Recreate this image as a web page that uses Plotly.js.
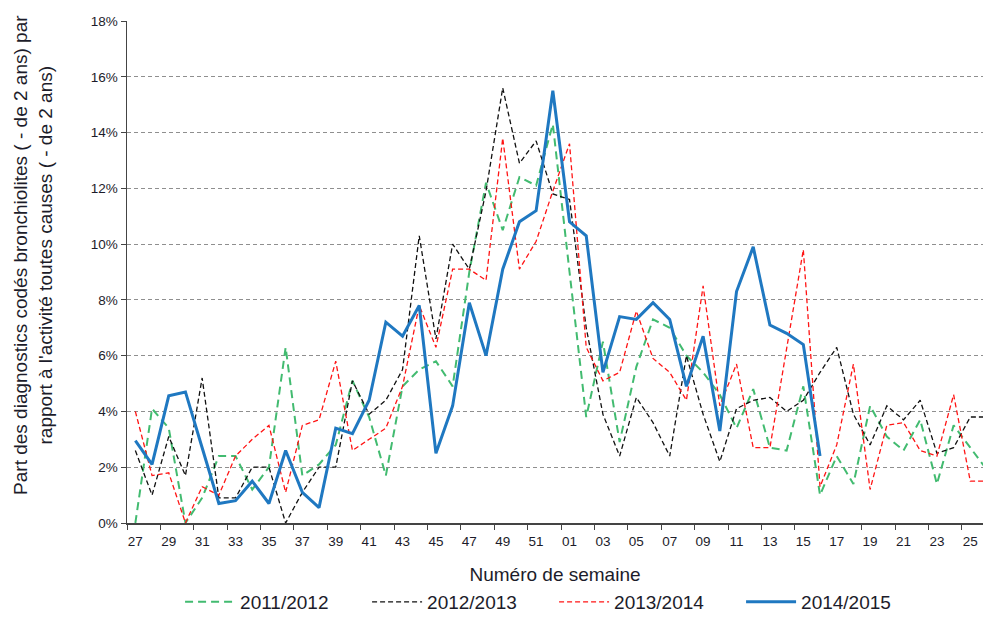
<!DOCTYPE html>
<html>
<head>
<meta charset="utf-8">
<script src="https://cdn.plot.ly/plotly-3.0.1.min.js"></script>
<style>html,body{margin:0;padding:0;background:#fff;}#chart{width:983px;height:621px;}</style>
</head>
<body>
<div id="chart"></div>
<script>
// Week labels (season week 27 -> week 26 of next year)
const weeks = ['27','28','29','30','31','32','33','34','35','36','37','38','39','40','41','42','43','44','45','46','47','48','49','50','51','52',
               '01','02','03','04','05','06','07','08','09','10','11','12','13','14','15','16','17','18','19','20','21','22','23','24','25','26'];

// Share (%) per week, by season
const s2011_2012 = [0.0,4.1,3.4,0.0,0.9,2.4,2.4,1.2,2.0,6.3,1.7,2.1,2.8,5.1,3.8,1.7,4.9,5.5,5.8,4.9,9.0,12.2,10.5,12.4,12.1,14.3,
                    9.0,3.8,6.5,2.9,5.6,7.3,7.0,6.0,5.4,4.6,3.4,4.8,2.7,2.6,4.9,1.0,2.4,1.4,4.2,3.1,2.6,3.7,1.4,3.5,2.7,1.9];
const s2012_2013 = [2.6,1.0,3.1,1.7,5.2,0.9,0.9,2.0,2.0,0.0,1.1,2.0,2.0,5.1,3.9,4.4,5.5,10.3,6.6,10.0,9.1,11.9,15.6,12.9,13.7,11.8,
                    11.6,7.0,3.9,2.4,4.5,3.6,2.4,6.0,3.9,2.2,4.1,4.4,4.5,4.0,4.4,5.4,6.3,3.9,2.8,4.2,3.7,4.4,2.5,2.7,3.8,3.8];
const s2013_2014 = [4.0,1.7,1.8,0.0,1.3,1.0,2.4,3.0,3.5,1.1,3.5,3.7,5.8,2.6,3.0,3.4,4.9,7.8,6.3,9.1,9.1,8.7,13.8,9.1,10.1,11.9,
                    13.6,6.3,5.1,5.4,7.6,5.9,5.4,4.4,8.5,4.2,5.7,2.7,2.7,6.2,9.8,1.3,2.8,5.7,1.2,3.5,3.6,2.6,2.4,4.6,1.5,1.5];
const s2014_2015 = [2.95,2.1,4.56,4.7,2.7,0.7,0.8,1.5,0.7,2.6,1.1,0.55,3.4,3.2,4.4,7.2,6.7,7.8,2.5,4.2,7.9,6.0,9.1,10.8,11.2,15.5,
                    10.8,10.3,5.4,7.4,7.3,7.9,7.3,4.9,6.7,3.3,8.3,9.9,7.1,6.8,6.4,2.4];

const seasonNames = ['2011/2012','2012/2013','2013/2014','2014/2015'];
const yTicks = [0,2,4,6,8,10,12,14,16,18];

const idx = weeks.map((w, i) => i);
const labelIdx = idx.filter(i => i % 2 === 0);
const labelTxt = labelIdx.map(i => weeks[i]);
const boundaries = labelIdx.map(i => i - 0.5);

function xs(arr){ return arr.map((v, i) => i); }

const traces = [
  {x: xs(s2011_2012), y: s2011_2012, name: seasonNames[0], type: 'scatter', mode: 'lines',
   line: {color: '#42bb70', width: 2, dash: '8px,5px'}},
  {x: xs(s2012_2013), y: s2012_2013, name: seasonNames[1], type: 'scatter', mode: 'lines',
   line: {color: '#111111', width: 1.3, dash: '5px,3px'}},
  {x: xs(s2013_2014), y: s2013_2014, name: seasonNames[2], type: 'scatter', mode: 'lines',
   line: {color: '#ff1414', width: 1.3, dash: '5px,3px'}},
  {x: xs(s2014_2015), y: s2014_2015, name: seasonNames[3], type: 'scatter', mode: 'lines',
   line: {color: '#1f78c1', width: 3}}
];

const font = 'Liberation Sans, Arial, sans-serif';
const txtColor = '#1c1c2a';

const layout = {
  width: 983, height: 621,
  margin: {l: 127, r: 0, t: 21, b: 98, autoexpand: false},
  paper_bgcolor: '#ffffff', plot_bgcolor: '#ffffff',
  font: {family: font, color: txtColor, size: 13},
  showlegend: true,
  hovermode: false,
  xaxis: {
    range: [-0.5, 50.76],
    tickmode: 'array', tickvals: labelIdx, ticktext: labelTxt,
    ticks: 'outside', ticklen: 5, tickcolor: 'rgba(0,0,0,0)',
    minor: {tickmode: 'array', tickvals: boundaries, ticks: 'outside', ticklen: 5, tickwidth: 1, tickcolor: '#444', showgrid: false},
    showline: true, linecolor: '#444', linewidth: 1.5,
    showgrid: false, zeroline: false,
    tickfont: {size: 13.5, color: txtColor},
    title: {text: 'Numéro de semaine', font: {size: 19, color: txtColor}, standoff: 20},
    automargin: false
  },
  yaxis: {
    range: [0, 18],
    tickmode: 'array', tickvals: yTicks, ticktext: yTicks.map(v => v + '%'),
    ticks: 'outside', ticklen: 5, tickcolor: '#444',
    showline: true, linecolor: '#444', linewidth: 1.5,
    showgrid: true, gridcolor: '#8f8f8f', griddash: '4px,3px', gridwidth: 1,
    zeroline: false,
    tickfont: {size: 13.5, color: txtColor},
    automargin: false
  },
  legend: {
    orientation: 'h', x: 0.062, xanchor: 'left', y: -0.1952, yanchor: 'bottom',
    font: {size: 19, color: txtColor}, itemwidth: 50, entrywidth: 122, entrywidthmode: 'pixels',
    bgcolor: 'rgba(0,0,0,0)'
  },
  annotations: [{
    text: 'Part des diagnostics codés bronchiolites ( - de 2 ans) par<br>rapport à l\'activité toutes causes ( - de 2 ans)',
    xref: 'paper', yref: 'paper', x: (33 - 127) / 856, y: 0.534, xanchor: 'center', yanchor: 'middle',
    textangle: -90, showarrow: false, align: 'center',
    font: {size: 19, color: txtColor, family: font}
  }]
};

Plotly.newPlot('chart', traces, layout, {displayModeBar: false, staticPlot: true});
</script>
</body>
</html>
